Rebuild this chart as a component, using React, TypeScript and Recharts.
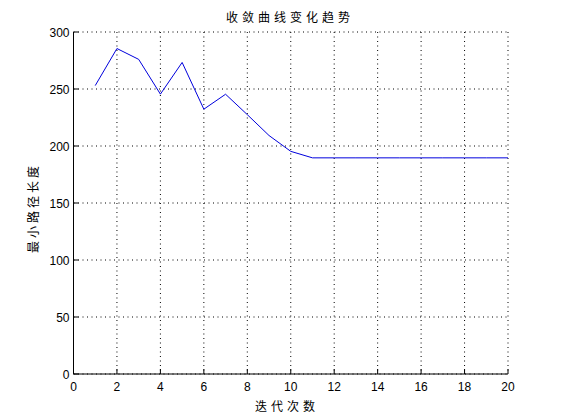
import React from 'react';
import { LineChart, Line, XAxis, YAxis, CartesianGrid } from 'recharts';

const iterations = [1, 2, 3, 4, 5, 6, 7, 8, 9, 10, 11, 12, 13, 14, 15, 16, 17, 18, 19, 20];
const minLength = [253, 285.5, 276, 245.5, 273.3, 232.3, 245.4, 227.5, 209.2, 195.3, 189.6, 189.6, 189.6, 189.6, 189.6, 189.6, 189.6, 189.6, 189.6, 189.6];
const xTicks = [0, 2, 4, 6, 8, 10, 12, 14, 16, 18, 20];
const yTicks = [0, 50, 100, 150, 200, 250, 300];
const titleText = '收敛曲线变化趋势';
const xLabelText = '迭代次数';
const yLabelText = '最小路径长度';

const data = iterations.map((x, i) => ({ x, y: minLength[i] }));

const NUM_FONT = '"Liberation Sans", Arial, sans-serif';
const CJK_FONT = '"Noto Sans CJK SC", sans-serif';

const BottomTick = (p: any) => (
  <g>
    <line x1={p.x} x2={p.x} y1={p.y} y2={p.y - 5} stroke="#000" />
    <text x={p.x} y={p.y + 17} textAnchor="middle" fontSize={12} fontFamily={NUM_FONT} fill="#000">
      {p.payload.value}
    </text>
  </g>
);
const LeftTick = (p: any) => (
  <g>
    <line x1={p.x} x2={p.x + 5} y1={p.y} y2={p.y} stroke="#000" />
    <text x={p.x - 4} y={p.y + 4.5} textAnchor="end" fontSize={12} fontFamily={NUM_FONT} fill="#000">
      {p.payload.value}
    </text>
  </g>
);
const TopTick = (p: any) => (
  <line x1={p.x} x2={p.x} y1={p.y} y2={p.y + 5} stroke="#000" />
);
const RightTick = (p: any) => (
  <line x1={p.x} x2={p.x - 5} y1={p.y} y2={p.y} stroke="#000" />
);

export default function App() {
  return (
    <div style={{ position: 'absolute', left: 0, top: 0, width: 561, height: 420, background: '#fff' }}>
      <LineChart width={561} height={420} data={data} margin={{ top: 32, right: 53, left: 0.5, bottom: 0 }}>
        <CartesianGrid xAxisId="b" yAxisId="l" stroke="#000" strokeDasharray="1 3.5" horizontalPoints={undefined} />
        <XAxis xAxisId="b" dataKey="x" type="number" domain={[0, 20]} ticks={xTicks} height={46}
          tickSize={0} tickMargin={0} tick={<BottomTick />} axisLine={{ stroke: '#000' }} interval={0} />
        <XAxis xAxisId="t" orientation="top" dataKey="x" type="number" domain={[0, 20]} ticks={xTicks} height={0}
          tickSize={0} tickMargin={0} tick={<TopTick />} axisLine={{ stroke: '#000' }} interval={0} />
        <YAxis yAxisId="l" type="number" domain={[0, 300]} ticks={yTicks} width={73}
          tickSize={0} tickMargin={0} tick={<LeftTick />} axisLine={{ stroke: '#000' }} interval={0} />
        <YAxis yAxisId="r" orientation="right" type="number" domain={[0, 300]} ticks={yTicks} width={0}
          tickSize={0} tickMargin={0} tick={<RightTick />} axisLine={{ stroke: '#000' }} interval={0} />
        <Line xAxisId="b" yAxisId="l" dataKey="y" stroke="#0000dd" strokeWidth={1} dot={false} isAnimationActive={false} />
      </LineChart>
      <svg width={561} height={420} style={{ position: 'absolute', left: 0, top: 0, pointerEvents: 'none' }}>
        <text x={290} y={22} textAnchor="middle" fontSize={12} letterSpacing={4} fontFamily={CJK_FONT} fill="#000">{titleText}</text>
        <text x={287} y={411} textAnchor="middle" fontSize={12} letterSpacing={4} fontFamily={CJK_FONT} fill="#000">{xLabelText}</text>
        <text x={0} y={0} transform="translate(38,208) rotate(-90)" textAnchor="middle" fontSize={12} letterSpacing={3} fontFamily={CJK_FONT} fill="#000">{yLabelText}</text>
      </svg>
    </div>
  );
}
